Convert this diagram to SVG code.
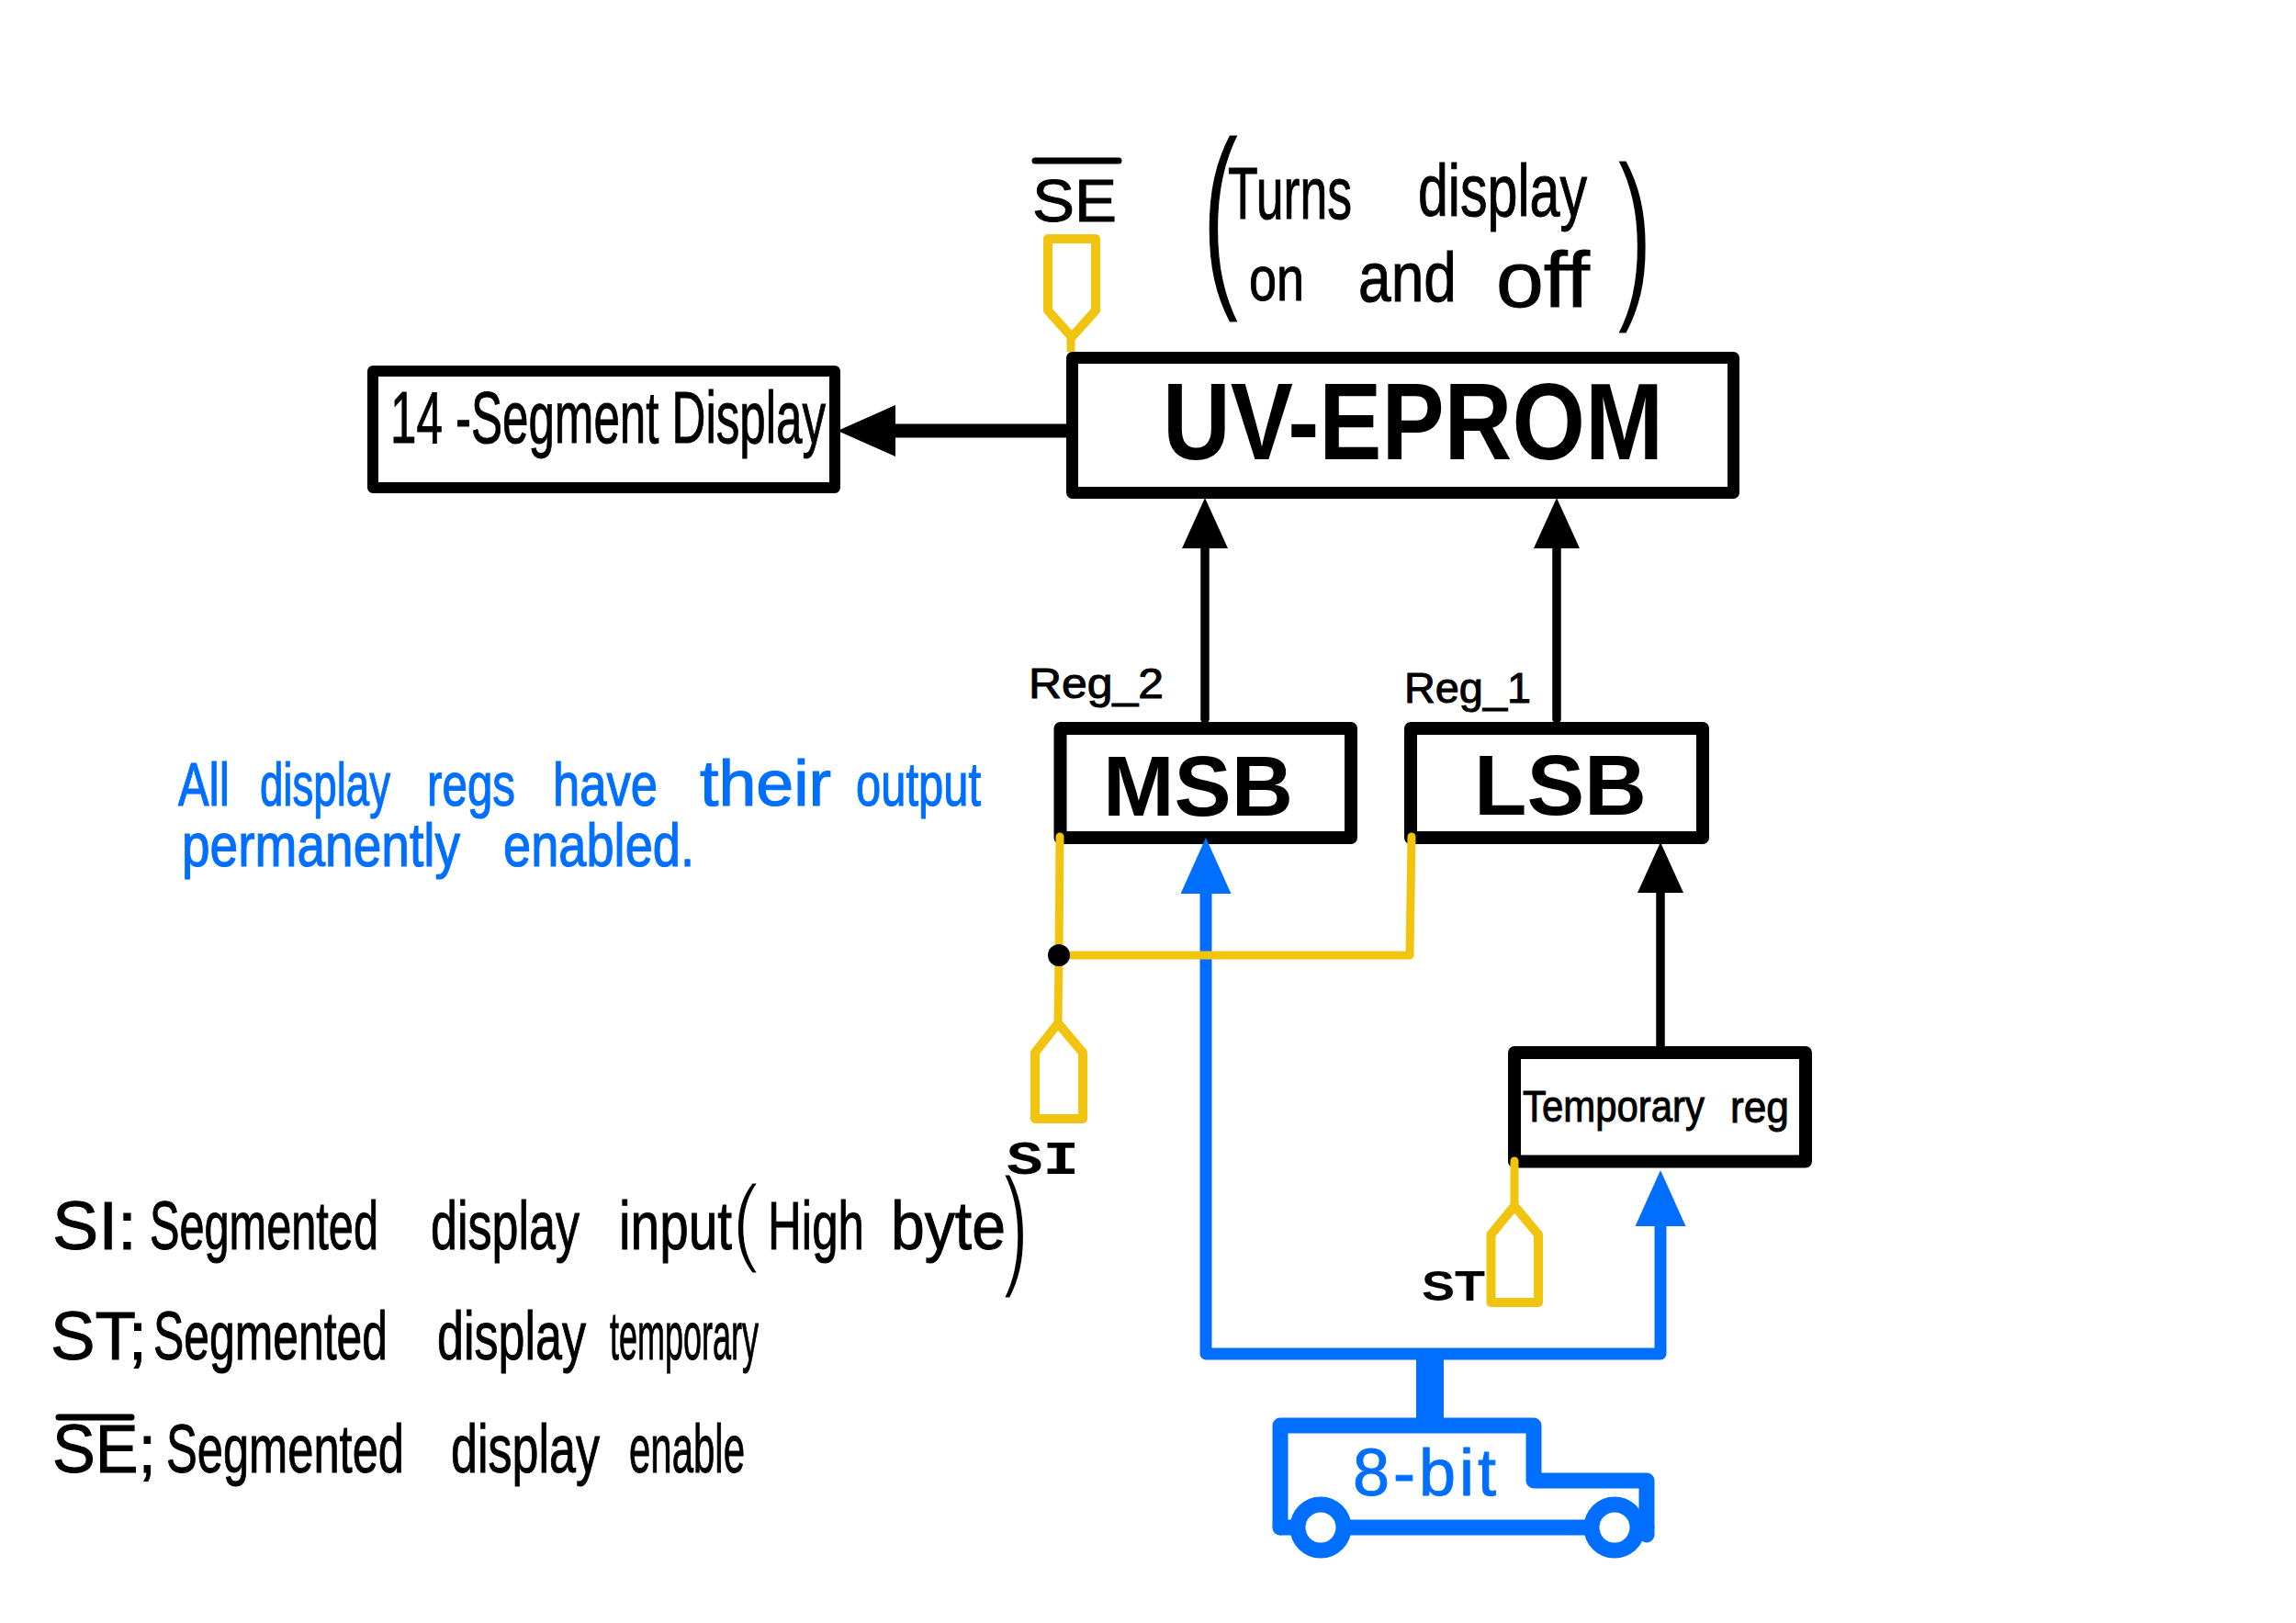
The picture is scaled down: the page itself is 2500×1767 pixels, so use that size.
<svg xmlns="http://www.w3.org/2000/svg" width="2500" height="1767" viewBox="0 0 2500 1767">
<style>
text{font-family:"Liberation Sans",Arial,sans-serif;fill:#000;stroke:none}
.box{fill:#fff;stroke:#000;stroke-linejoin:round}
.port{fill:none;stroke:#F1C40F;stroke-width:10;stroke-linejoin:round}
.hw{font-size:68px;stroke:#000;stroke-width:1}
.leg{font-size:74px;stroke:#000;stroke-width:1}
.note{font-size:66px;fill:#006FFF;stroke:#006FFF;stroke-width:1.2}
.big{font-weight:700}
.mono{font-family:"Liberation Mono",monospace;font-weight:700}
.thin{stroke:#fff;stroke-width:3}
.y{fill:none;stroke:#F1C40F;stroke-width:9;stroke-linecap:round;stroke-linejoin:round}
.k{fill:none;stroke:#000;stroke-width:9.5;stroke-linecap:round}
.b{fill:none;stroke:#006FFF;stroke-width:13;stroke-linejoin:round}
.truck{fill:none;stroke:#006FFF;stroke-width:17;stroke-linejoin:round;stroke-linecap:round}
.wheel{fill:#fff;stroke:#006FFF;stroke-width:17}
.bar{stroke:#000;stroke-width:7;stroke-linecap:round}
</style>
<defs>
<marker id="ah" markerUnits="userSpaceOnUse" markerWidth="60" markerHeight="60" refX="0" refY="27" orient="auto"><path d="M0 2L55 27L0 52Z" fill="#000"/></marker>
<marker id="ahb" markerUnits="userSpaceOnUse" markerWidth="66" markerHeight="60" refX="0" refY="27.500" orient="auto"><path d="M0 0L61 27.500L0 55Z" fill="#006FFF"/></marker>
<marker id="ahw" markerUnits="userSpaceOnUse" markerWidth="66" markerHeight="60" refX="0" refY="28" orient="auto"><path d="M0 0L63 28L0 56Z" fill="#000"/></marker>
</defs>
<g id="display">
<rect class="box" x="406" y="404" width="503" height="127" stroke-width="12"/>
<text class="hw" x="425" y="482" style="font-size:80px" textLength="474" lengthAdjust="spacingAndGlyphs">14 -Segment Display</text>
</g>
<g id="eprom">
<rect class="box" x="1167.500" y="389.500" width="720" height="147" stroke-width="13"/>
<text class="big" x="1266" y="500" font-size="118" textLength="545" lengthAdjust="spacingAndGlyphs">UV-EPROM</text>
</g>
<g id="msb">
<rect class="box" x="1154.500" y="793" width="316.500" height="119" stroke-width="14"/>
<text class="big" x="1201" y="888" font-size="93" textLength="207" lengthAdjust="spacingAndGlyphs">MSB</text>
</g>
<g id="lsb">
<rect class="box" x="1536" y="793" width="318" height="119" stroke-width="14"/>
<text class="big" x="1605" y="887" font-size="93" textLength="188" lengthAdjust="spacingAndGlyphs">LSB</text>
</g>
<g id="temp">
<rect class="box" x="1649" y="1146" width="317" height="118.500" stroke-width="14"/>
<text class="hw" style="font-size:48px" x="1658" y="1221" textLength="198" lengthAdjust="spacingAndGlyphs">Temporary</text>
<text class="hw" style="font-size:48px" x="1884" y="1222" textLength="64" lengthAdjust="spacingAndGlyphs">reg</text>
</g>
<g id="connectors">
<path class="k" style="stroke-width:15;stroke-linecap:butt" d="M1161 469H975" marker-end="url(#ahw)"/>
<path class="k" d="M1312 783V597" marker-end="url(#ah)"/>
<path class="k" d="M1695 783V597" marker-end="url(#ah)"/>
<path class="k" style="stroke-linecap:butt" d="M1808 1139V972" marker-end="url(#ah)"/>
<path class="b" d="M1557 1474H1313V973" marker-end="url(#ahb)"/>
<path class="b" d="M1557 1474H1808V1335" marker-end="url(#ahb)"/>
<path d="M1557 1474V1545" fill="none" stroke="#006FFF" stroke-width="30"/>
<path class="y" d="M1154 911L1153 1040L1152 1111"/>
<path class="y" d="M1153 1040H1535L1537 911"/>
<path class="y" d="M1649 1264V1313"/>
<path class="y" style="stroke-linecap:butt" d="M1166 367V383"/>
<circle cx="1153" cy="1040" r="12" fill="#000"/>
</g>
<g id="port-se">
<path class="port" d="M1141 260H1193V338L1167 367L1141 338Z"/>
<path class="bar" d="M1127 175H1218"/>
<text class="hw" x="1124" y="241" style="font-size:65px" textLength="92" lengthAdjust="spacingAndGlyphs">SE</text>
</g>
<g id="port-si">
<path class="port" d="M1152 1114L1179 1146V1218H1127V1146Z"/>
<text class="mono" x="1096" y="1278" font-size="52" textLength="79" lengthAdjust="spacingAndGlyphs">SI</text>
</g>
<g id="port-st">
<path class="port" d="M1649 1313L1675 1344V1418H1623.500V1344Z"/>
<text class="big" x="1548" y="1416" font-size="46" textLength="69" lengthAdjust="spacingAndGlyphs">ST</text>
</g>
<g id="bus-8bit">
<path class="truck" d="M1394 1663V1552H1670V1612H1793V1671"/>
<path class="truck" d="M1394 1663H1793"/>
<circle class="wheel" cx="1438" cy="1663" r="25"/>
<circle class="wheel" cx="1758" cy="1663" r="25"/>
<text x="1473" y="1628" font-size="72" textLength="156" lengthAdjust="spacing" style="fill:#006FFF;stroke:#006FFF;stroke-width:1">8-bit</text>
</g>
<g id="labels">
<text class="hw" x="1120" y="760" style="font-size:46px" textLength="147" lengthAdjust="spacingAndGlyphs">Reg_2</text>
<text class="hw" x="1529" y="765" style="font-size:46px" textLength="138" lengthAdjust="spacingAndGlyphs">Reg_1</text>
<text class="thin" x="1308" y="306" font-size="221" textLength="42" lengthAdjust="spacingAndGlyphs">(</text>
<text class="hw" x="1337" y="238" style="font-size:80px" textLength="135" lengthAdjust="spacingAndGlyphs">Turns</text>
<text class="hw" x="1544" y="235" style="font-size:80px" textLength="184" lengthAdjust="spacingAndGlyphs">display</text>
<text class="thin" x="1760" y="322" font-size="205" textLength="40" lengthAdjust="spacingAndGlyphs">)</text>
<text class="hw" x="1360" y="327" textLength="60" lengthAdjust="spacingAndGlyphs">on</text>
<text class="hw" style="font-size:76px" x="1479" y="328" textLength="107" lengthAdjust="spacingAndGlyphs">and</text>
<text class="hw" style="font-size:86px" x="1629" y="334" textLength="102" lengthAdjust="spacingAndGlyphs">off</text>
</g>
<g id="note">
<text class="note" y="877"><tspan x="194" textLength="56" lengthAdjust="spacingAndGlyphs">All</tspan> <tspan x="283" textLength="142" lengthAdjust="spacingAndGlyphs">display</tspan> <tspan x="465" textLength="96" lengthAdjust="spacingAndGlyphs">regs</tspan> <tspan x="602" textLength="114" lengthAdjust="spacingAndGlyphs">have</tspan> <tspan x="762" textLength="143" lengthAdjust="spacingAndGlyphs" style="font-size:70px">their</tspan> <tspan x="932" textLength="136" lengthAdjust="spacingAndGlyphs">output</tspan></text>
<text class="note" y="943"><tspan x="198" textLength="303" lengthAdjust="spacingAndGlyphs">permanently</tspan> <tspan x="548" textLength="208" lengthAdjust="spacingAndGlyphs">enabled.</tspan></text>
</g>
<g id="legend">
<text class="leg" y="1360"><tspan x="57" textLength="92" lengthAdjust="spacingAndGlyphs">SI:</tspan> <tspan x="163" textLength="249" lengthAdjust="spacingAndGlyphs">Segmented</tspan> <tspan x="469" textLength="162" lengthAdjust="spacingAndGlyphs">display</tspan> <tspan x="674" textLength="123" lengthAdjust="spacingAndGlyphs">input</tspan> <tspan x="836" textLength="105" lengthAdjust="spacingAndGlyphs">High</tspan> <tspan x="970" textLength="125" lengthAdjust="spacingAndGlyphs">byte</tspan></text>
<text class="thin" x="797" y="1365" font-size="107" textLength="30" lengthAdjust="spacingAndGlyphs">(</text>
<text class="thin" x="1092" y="1384" font-size="147" textLength="28" lengthAdjust="spacingAndGlyphs">)</text>
<text class="leg" y="1480"><tspan x="55" textLength="105" lengthAdjust="spacingAndGlyphs">ST;</tspan> <tspan x="167" textLength="255" lengthAdjust="spacingAndGlyphs">Segmented</tspan> <tspan x="476" textLength="162" lengthAdjust="spacingAndGlyphs">display</tspan> <tspan x="664" textLength="162" lengthAdjust="spacingAndGlyphs">temporary</tspan></text>
<path class="bar" d="M64 1543H143"/>
<text class="leg" y="1603"><tspan x="57" textLength="113" lengthAdjust="spacingAndGlyphs">SE;</tspan> <tspan x="181" textLength="259" lengthAdjust="spacingAndGlyphs">Segmented</tspan> <tspan x="491" textLength="162" lengthAdjust="spacingAndGlyphs">display</tspan> <tspan x="685" textLength="126" lengthAdjust="spacingAndGlyphs">enable</tspan></text>
</g>
</svg>
